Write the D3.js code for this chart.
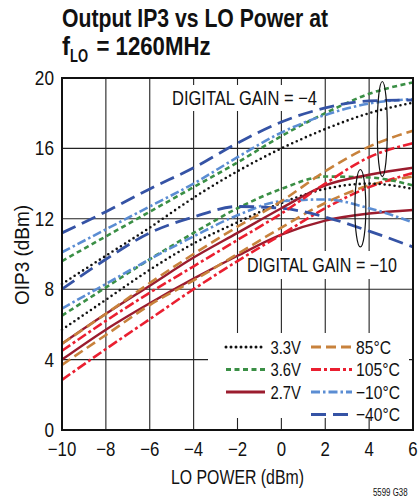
<!DOCTYPE html>
<html>
<head>
<meta charset="utf-8">
<script src="https://cdn.jsdelivr.net/npm/d3@7"></script>
<style>
  html, body { margin: 0; padding: 0; background: #fff; }
  svg { display: block; }
  text { font-family: "Liberation Sans", Arial, Helvetica, sans-serif; fill: #111; }
</style>
</head>
<body>
<svg id="chart" width="418" height="499"></svg>
<script>
// ---------------- DATA ----------------
const loPower = [-10, -8, -6, -4, -2, 0, 2, 4, 6];

// Digital gain = -4
const g4_33V  = [8.3, 9.9, 11.5, 13.2, 14.7, 16.0, 17.1, 18.0, 18.6];
const g4_36V  = [9.6, 11.0, 12.4, 13.8, 15.2, 16.7, 18.0, 19.1, 19.75];
const g4_27V  = [4.9, 6.6, 8.2, 9.8, 11.2, 12.6, 13.9, 14.5, 14.9];
const g4_85C  = [4.9, 6.6, 8.35, 10.0, 11.55, 13.0, 14.7, 16.1, 17.0];
const g4_105C = [4.5, 6.2, 7.8, 9.3, 10.8, 12.3, 14.0, 15.5, 16.3];
const g4_m10C = [10.1, 11.4, 12.7, 14.0, 15.5, 16.9, 17.9, 18.55, 18.8];
const g4_m40C = [11.2, 12.4, 13.7, 14.9, 16.3, 17.5, 18.3, 18.7, 18.75];

// Digital gain = -10
const g10_33V  = [5.7, 7.4, 9.1, 10.6, 11.8, 12.9, 13.7, 14.0, 13.7];
const g10_36V  = [6.5, 8.1, 9.7, 11.2, 12.6, 13.7, 14.4, 14.35, 13.9];
const g10_27V  = [4.0, 5.7, 7.2, 8.6, 9.9, 11.1, 11.9, 12.3, 12.5];
const g10_85C  = [3.7, 5.4, 7.1, 8.5, 10.0, 11.5, 12.9, 13.9, 14.4];
const g10_105C = [2.85, 4.6, 6.3, 8.0, 9.6, 11.1, 12.6, 13.8, 14.6];
const g10_m10C = [6.9, 8.3, 9.7, 11.0, 12.2, 13.0, 13.1, 12.6, 11.8];
const g10_m40C = [8.0, 9.7, 11.2, 12.1, 12.7, 12.6, 12.1, 11.3, 10.4];

const xTicks = [-10, -8, -6, -4, -2, 0, 2, 4, 6];
const xTickLabels = ["\u221210", "\u22128", "\u22126", "\u22124", "\u22122", "0", "2", "4", "6"];
const yTicks = [0, 4, 8, 12, 16, 20];
const yTickLabels = ["0", "4", "8", "12", "16", "20"];

const legendNames = ["3.3V", "3.6V", "2.7V", "85\u00B0C", "105\u00B0C", "\u221210\u00B0C", "\u221240\u00B0C"];

// ---------------- STYLES ----------------
const styles = {
  "3.3V":  {color: "#111111", dash: "0,5",       cap: "round", width: 2.6},
  "3.6V":  {color: "#3a8f45", dash: "5,3.5",     cap: "butt",  width: 2.6},
  "2.7V":  {color: "#9b1c2e", dash: null,        cap: "butt",  width: 2.4},
  "85\u00B0C":  {color: "#c8823c", dash: "10,5",      cap: "butt",  width: 2.6},
  "105\u00B0C": {color: "#ea1f30", dash: "10,3,3,3",  cap: "butt",  width: 2.6},
  "\u221210\u00B0C": {color: "#5b8dd3", dash: "9,3,2.5,3", cap: "butt",  width: 2.6},
  "\u221240\u00B0C": {color: "#3553a5", dash: "15,7",      cap: "butt",  width: 2.8}
};

const seriesList = [
  ["2.7V", g10_27V], ["85\u00B0C", g10_85C], ["105\u00B0C", g10_105C],
  ["3.3V", g10_33V], ["3.6V", g10_36V], ["\u221210\u00B0C", g10_m10C], ["\u221240\u00B0C", g10_m40C],
  ["2.7V", g4_27V], ["85\u00B0C", g4_85C], ["105\u00B0C", g4_105C],
  ["3.3V", g4_33V], ["3.6V", g4_36V], ["\u221210\u00B0C", g4_m10C], ["\u221240\u00B0C", g4_m40C]
];

// ---------------- HELPERS ----------------
function fitWidth(sel, w) {
  sel.attr("textLength", w).attr("lengthAdjust", "spacingAndGlyphs");
}
function squeeze(sel, f) {
  sel.each(function() {
    const n = this.getComputedTextLength();
    d3.select(this).attr("textLength", n * f).attr("lengthAdjust", "spacingAndGlyphs");
  });
}

// ---------------- CHART ----------------
const svg = d3.select("#chart");
const x = d3.scaleLinear().domain([-10, 6]).range([62, 413]);
const y = d3.scaleLinear().domain([0, 20]).range([430, 78]);

// Title
fitWidth(svg.append("text").attr("x", 62).attr("y", 27)
  .style("font-weight", "bold").style("font-size", "26.5px").text("Output IP3 vs LO Power at"), 266);
fitWidth(svg.append("text").attr("x", 62).attr("y", 55)
  .style("font-weight", "bold").style("font-size", "26.5px").text("f"), 8);
fitWidth(svg.append("text").attr("x", 70).attr("y", 61.5)
  .style("font-weight", "bold").style("font-size", "19px").text("LO"), 18);
fitWidth(svg.append("text").attr("x", 96.5).attr("y", 55)
  .style("font-weight", "bold").style("font-size", "26.5px").text("= 1260MHz"), 114);

// Grid
const grid = svg.append("g");
grid.selectAll(".vg").data(xTicks).enter().append("line")
  .attr("x1", d => x(d)).attr("x2", d => x(d)).attr("y1", y(0)).attr("y2", y(20))
  .attr("stroke", "#222").attr("stroke-width", 1.1);
grid.selectAll(".hg").data(yTicks).enter().append("line")
  .attr("x1", x(-10)).attr("x2", x(6)).attr("y1", d => y(d)).attr("y2", d => y(d))
  .attr("stroke", "#222").attr("stroke-width", 1.1);

// White boxes behind annotations (label 1, label 2, legend)
svg.append("rect").attr("x", 168).attr("y", 85).attr("width", 152).attr("height", 26).attr("fill", "#fff");
svg.append("rect").attr("x", 240).attr("y", 251).attr("width", 164).attr("height", 28).attr("fill", "#fff");
svg.append("rect").attr("x", 208).attr("y", 333).attr("width", 201).attr("height", 85).attr("fill", "#fff");

// Curves
const line = d3.line().x((d, i) => x(loPower[i])).y(d => y(d)).curve(d3.curveMonotoneX);
const curves = svg.append("g");
seriesList.forEach(([name, vals]) => {
  const s = styles[name];
  curves.append("path").datum(vals).attr("d", line)
    .attr("fill", "none").attr("stroke", s.color).attr("stroke-width", s.width)
    .attr("stroke-dasharray", s.dash).attr("stroke-linecap", s.cap);
});

// Frame
svg.append("rect").attr("x", x(-10)).attr("y", y(20)).attr("width", x(6) - x(-10)).attr("height", y(0) - y(20))
  .attr("fill", "none").attr("stroke", "#111").attr("stroke-width", 2);

// Axes labels
const xt = svg.selectAll(".xt").data(xTicks).enter().append("text")
  .attr("x", d => x(d)).attr("y", 455.5).attr("text-anchor", "middle").style("font-size", "20px")
  .text((d, i) => xTickLabels[i]);
squeeze(xt, 0.84);
const yt = svg.selectAll(".yt").data(yTicks).enter().append("text")
  .attr("x", 54).attr("y", d => y(d) + 7).attr("text-anchor", "end").style("font-size", "20px")
  .text((d, i) => yTickLabels[i]);
squeeze(yt, 0.86);
fitWidth(svg.append("text").attr("x", 171).attr("y", 484).style("font-size", "19.5px")
  .text("LO POWER (dBm)"), 133);
fitWidth(svg.append("text").attr("transform", "translate(29,255) rotate(-90)").attr("x", -50)
  .style("font-size", "19.5px").text("OIP3 (dBm)"), 100);
fitWidth(svg.append("text").attr("x", 373).attr("y", 496).style("font-size", "10.5px")
  .text("5599 G38"), 34.5);

// Annotations
fitWidth(svg.append("text").attr("x", 172).attr("y", 105).style("font-size", "20px")
  .text("DIGITAL GAIN = \u22124"), 145);
fitWidth(svg.append("text").attr("x", 247).attr("y", 272).style("font-size", "20px")
  .text("DIGITAL GAIN = \u221210"), 150);
// Ellipses (in data space)
const ell = [{cx: 4.6, cy: 17.1, rx: 0.23, ry: 2.7}, {cx: 3.6, cy: 12.6, rx: 0.25, ry: 2.2}];
svg.selectAll(".ell").data(ell).enter().append("ellipse")
  .attr("cx", d => x(d.cx)).attr("cy", d => y(d.cy))
  .attr("rx", d => x(d.cx + d.rx) - x(d.cx)).attr("ry", d => y(d.cy - d.ry) - y(d.cy))
  .attr("fill", "none").attr("stroke", "#111").attr("stroke-width", 1.2);

// Legend
const legendPos = [
  {col: 0, row: 0}, {col: 0, row: 1}, {col: 0, row: 2},
  {col: 1, row: 0}, {col: 1, row: 1}, {col: 1, row: 2}, {col: 1, row: 3}
];
const legendW = [30.5, 30.5, 30.5, 35, 44, 44, 44];
const colX = [{x1: 226, x2: 265, tx: 270.5}, {x1: 311, x2: 352, tx: 356}];
legendNames.forEach((name, i) => {
  const s = styles[name];
  const p = legendPos[i];
  const base = 353.5 + p.row * 22.5;
  svg.append("line").attr("x1", colX[p.col].x1).attr("x2", colX[p.col].x2)
    .attr("y1", base - 6.5).attr("y2", base - 6.5)
    .attr("stroke", s.color).attr("stroke-width", s.width + 0.4)
    .attr("stroke-dasharray", s.dash).attr("stroke-linecap", s.cap);
  fitWidth(svg.append("text").attr("x", colX[p.col].tx).attr("y", base).style("font-size", "19px").text(name), legendW[i]);
});
</script>
</body>
</html>
